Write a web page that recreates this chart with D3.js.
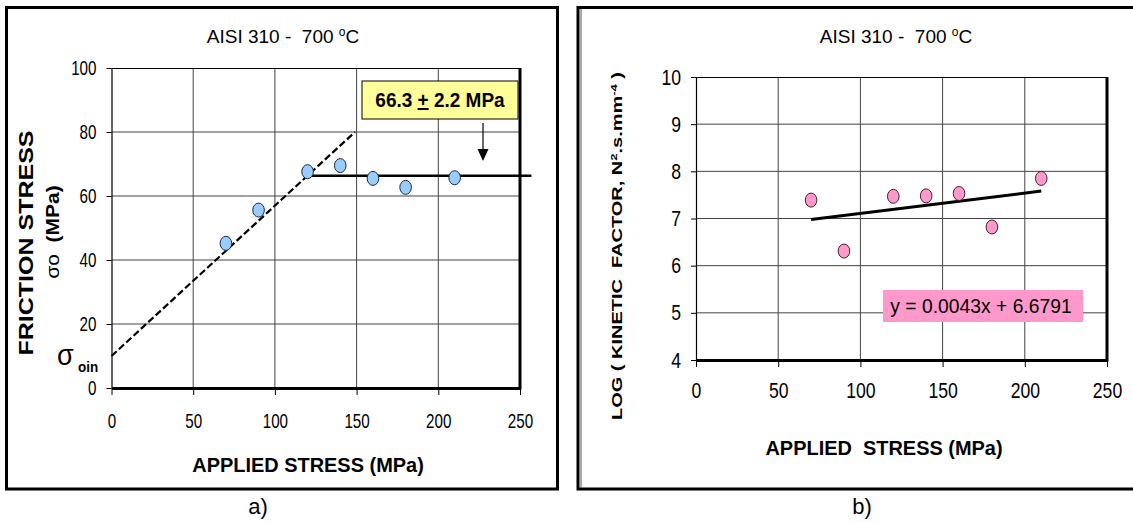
<!DOCTYPE html>
<html>
<head>
<meta charset="utf-8">
<script src="https://cdn.jsdelivr.net/npm/d3@7"></script>
<style>
  body { margin: 0; background: #fff; }
  svg { display: block; font-family: "Liberation Sans", Arial, sans-serif; }
  text { white-space: pre; }
</style>
</head>
<body>
<div id="chart"></div>
<script>
// data
const stressA = [70, 90, 120, 140, 160, 180, 210];
const frictionA = [45.2, 55.6, 67.6, 69.5, 65.5, 62.7, 65.7];
const stressB = [70, 90, 120, 140, 160, 180, 210];
const kineticB = [7.39, 6.31, 7.47, 7.48, 7.53, 6.82, 7.85];
const xTicks = [0, 50, 100, 150, 200, 250];
const yTicksA = [0, 20, 40, 60, 80, 100];
const yTicksB = [4, 5, 6, 7, 8, 9, 10];
const dashedFit = [[0, 10], [149, 80]];
const plateau = [[122, 66.3], [257, 66.3]];
const trendSlope = 0.0043, trendIntercept = 6.6791, trendRange = [70, 210];

const W = 1133, H = 522;
const svg = d3.select("#chart").append("svg").attr("width", W).attr("height", H);

// text squeezed horizontally like the source image
function sText(x, y, s, extra) {
  return svg.append("text").attr("transform", `translate(${x},${y}) scale(${s},1)` + (extra || ""));
}

// panel frames
svg.append("rect").attr("x", 6.5).attr("y", 7.5).attr("width", 551).attr("height", 481.5)
  .attr("fill", "none").attr("stroke", "#000").attr("stroke-width", 3);
svg.append("path").attr("d", "M1135,7.5H578V489H1135")
  .attr("fill", "none").attr("stroke", "#000").attr("stroke-width", 3);
svg.append("line").attr("x1", 581).attr("x2", 581).attr("y1", 9).attr("y2", 488)
  .attr("stroke", "#555").attr("stroke-width", 1);

function panel(opt) {
  const x = d3.scaleLinear().domain([0, 250]).range(opt.xr);
  const y = d3.scaleLinear().domain(opt.yd).range(opt.yr);
  const g = svg.append("g");
  const [x0, x1] = opt.xr, [y0, y1] = opt.yr;

  // grid
  g.selectAll(".gx").data(xTicks.slice(1, -1)).join("line")
    .attr("x1", d => x(d)).attr("x2", d => x(d)).attr("y1", y1).attr("y2", y0)
    .attr("stroke", "#444").attr("stroke-width", 1);
  g.selectAll(".gy").data(opt.yTicks.slice(1, -1)).join("line")
    .attr("x1", x0).attr("x2", x1).attr("y1", d => y(d)).attr("y2", d => y(d))
    .attr("stroke", "#444").attr("stroke-width", 1);

  // plot border: thin top/left, heavy right/bottom
  g.append("line").attr("x1", x0).attr("x2", x1).attr("y1", y1 + 0.5).attr("y2", y1 + 0.5)
    .attr("stroke", "#000").attr("stroke-width", 1.2);
  g.append("line").attr("x1", x1).attr("x2", x1).attr("y1", y1).attr("y2", y0 + 1.5)
    .attr("stroke", "#000").attr("stroke-width", 3);

  // axes
  const ax = g.append("g").attr("transform", `translate(0,${y0})`)
    .call(d3.axisBottom(x).tickValues(xTicks).tickSize(7).tickPadding(opt.xPad).tickSizeOuter(0));
  ax.select(".domain").attr("stroke-width", 3);
  const ay = g.append("g").attr("transform", `translate(${x0},0)`)
    .call(d3.axisLeft(y).tickValues(opt.yTicks).tickFormat(d3.format("d"))
      .tickSize(5).tickPadding(opt.yPad).tickSizeOuter(0));
  ay.select(".domain").attr("stroke-width", 1.2);
  [ax, ay].forEach(a => a.selectAll("text")
    .attr("font-size", opt.tickFont).attr("fill", "#000"));
  ax.selectAll("text").attr("transform", `scale(${opt.tickScale},1)`);
  ay.selectAll("text").attr("transform", `scale(${opt.tickScale},1)`)
    .attr("x", -(5 + opt.yPad) / opt.tickScale);
  [ax, ay].forEach(a => a.selectAll(".tick line").attr("stroke", "#000"));
  return { x, y, g };
}

// ---------- panel a ----------
const A = panel({ xr: [111.5, 520], yr: [388, 68], yd: [0, 100], yTicks: yTicksA,
  xPad: 19, yPad: 10, tickFont: 20, tickScale: 0.76 });

A.g.append("path").datum(dashedFit)
  .attr("d", d3.line().x(d => A.x(d[0])).y(d => A.y(d[1])))
  .attr("fill", "none").attr("stroke", "#000").attr("stroke-width", 2.2).attr("stroke-dasharray", "7,3");
A.g.append("path").datum(plateau)
  .attr("d", d3.line().x(d => A.x(d[0])).y(d => A.y(d[1])))
  .attr("fill", "none").attr("stroke", "#000").attr("stroke-width", 2.5);

A.g.selectAll(".pa").data(stressA.map((v, i) => [v, frictionA[i]])).join("ellipse")
  .attr("cx", d => A.x(d[0])).attr("cy", d => A.y(d[1])).attr("rx", 5.8).attr("ry", 7)
  .attr("fill", "#99ccff").attr("stroke", "#1a2a40").attr("stroke-width", 1);

// annotation box + arrow
svg.append("rect").attr("x", 362).attr("y", 81).attr("width", 156).attr("height", 38)
  .attr("fill", "#ffff99").attr("stroke", "#000").attr("stroke-width", 1);
const ann = sText(440, 107, 0.95).attr("text-anchor", "middle")
  .attr("font-weight", "bold").attr("font-size", 20);
ann.append("tspan").text("66.3 ");
ann.append("tspan").attr("text-decoration", "underline").text("+");
ann.append("tspan").text(" 2.2 MPa");
svg.append("line").attr("x1", 483).attr("x2", 483).attr("y1", 123).attr("y2", 150)
  .attr("stroke", "#000").attr("stroke-width", 1.2);
svg.append("path").attr("d", "M477.5,149L488.5,149L483,161Z").attr("fill", "#000");

sText(283, 43, 1).attr("text-anchor", "middle").attr("font-size", 19)
  .html("AISI 310 -  700 <tspan dy='-7' font-size='12'>o</tspan><tspan dy='7'>C</tspan>");
sText(308, 472, 0.95).attr("text-anchor", "middle")
  .attr("font-size", 21).attr("font-weight", "bold").text("APPLIED STRESS (MPa)");
sText(33, 243, 0.82, " rotate(-90)").attr("text-anchor", "middle")
  .attr("font-size", 25).attr("font-weight", "bold").text("FRICTION STRESS");
sText(59, 232, 0.85, " rotate(-90)").attr("text-anchor", "middle")
  .attr("font-size", 21).html("σo  <tspan font-weight='bold'>(MPa)</tspan>");
sText(57, 365, 0.9).attr("font-size", 30).text("σ");
sText(78, 372, 0.9).attr("font-size", 15).attr("font-weight", "bold").text("oin");
sText(258, 514, 1).attr("text-anchor", "middle").attr("font-size", 22).text("a)");

// ---------- panel b ----------
const B = panel({ xr: [696, 1107], yr: [360, 77], yd: [4, 10], yTicks: yTicksB,
  xPad: 15, yPad: 10, tickFont: 22, tickScale: 0.8 });

B.g.append("path").datum(trendRange.map(v => [v, trendSlope * v + trendIntercept]))
  .attr("d", d3.line().x(d => B.x(d[0])).y(d => B.y(d[1])))
  .attr("fill", "none").attr("stroke", "#000").attr("stroke-width", 3);

B.g.selectAll(".pb").data(stressB.map((v, i) => [v, kineticB[i]])).join("ellipse")
  .attr("cx", d => B.x(d[0])).attr("cy", d => B.y(d[1])).attr("rx", 5.8).attr("ry", 7)
  .attr("fill", "#ff99cc").attr("stroke", "#402030").attr("stroke-width", 1);

svg.append("rect").attr("x", 883).attr("y", 290).attr("width", 200).attr("height", 32).attr("fill", "#ff99cc");
sText(981, 313, 0.92).attr("text-anchor", "middle").attr("font-size", 21)
  .text("y = 0.0043x + 6.6791");

sText(896, 43, 1).attr("text-anchor", "middle").attr("font-size", 19)
  .html("AISI 310 -  700 <tspan dy='-7' font-size='12'>o</tspan><tspan dy='7'>C</tspan>");
sText(884, 455, 0.95).attr("text-anchor", "middle")
  .attr("font-size", 21).attr("font-weight", "bold").text("APPLIED  STRESS (MPa)");
sText(622, 246, 0.75, " rotate(-90)").attr("text-anchor", "middle")
  .attr("font-size", 20).attr("font-weight", "bold")
  .html("LOG ( KINETIC  FACTOR, N<tspan font-size='13' dy='-7'>2</tspan><tspan dy='7'>.s.mm</tspan><tspan font-size='13' dy='-7'>-4</tspan><tspan dy='7'> )</tspan>");
sText(862, 514, 1).attr("text-anchor", "middle").attr("font-size", 22).text("b)");
</script>
</body>
</html>
